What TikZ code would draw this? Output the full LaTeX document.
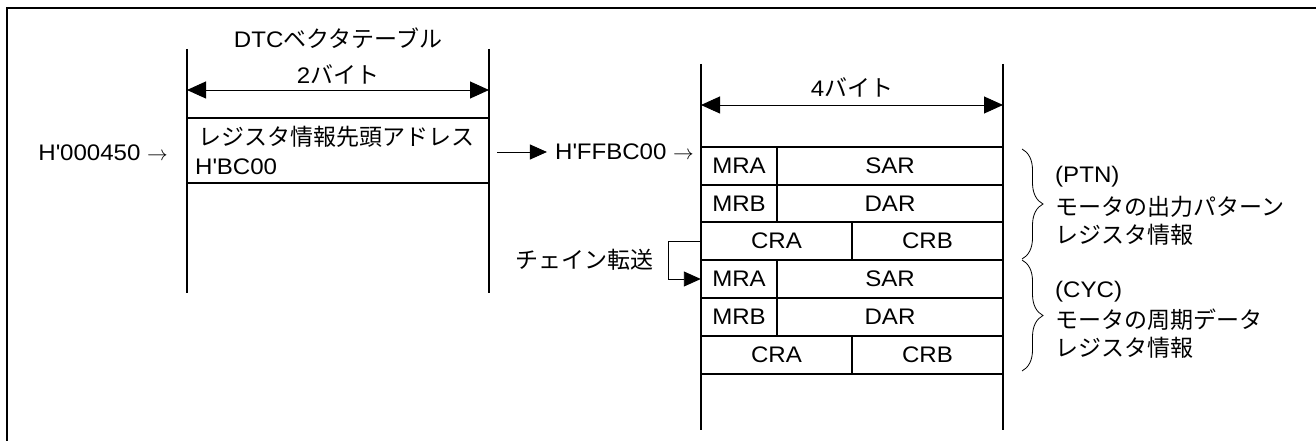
\documentclass[tikz,border=0pt]{standalone}
\usepackage{fontspec}
\setmainfont[FakeStretch=1.07]{Liberation Sans}
\newfontfamily\jpf{Noto Sans CJK JP}
\newcommand{\jp}[1]{{\jpf\fontsize{23bp}{27bp}\selectfont #1}}
\newcommand{\q}{\textquotesingle}
\usetikzlibrary{arrows.meta,decorations.pathreplacing}
\begin{document}
\begin{tikzpicture}[x=1bp,y=-1bp,
  font=\fontsize{22.5bp}{26bp}\selectfont,
  frame/.style={line width=2bp},
  tbl/.style={line width=1.6bp},
  divl/.style={line width=1.1bp},
  dim/.style={line width=0.9bp,{Triangle[length=19bp,width=17bp]}-{Triangle[length=19bp,width=17bp]}},
  conn/.style={line width=0.9bp,-{Triangle[length=17bp,width=15bp]}},
  lbl/.style={inner sep=0pt},
  cell/.style={inner sep=0pt,minimum height=37.8bp},
  br/.style={line width=0.8bp,decorate,decoration={brace,amplitude=21bp,aspect=0.5}}]
\useasboundingbox (0,0) rectangle (1316,441);
% frame
\draw[frame] (7,441) -- (7,8) -- (1316,8);
% left table
\draw[tbl] (187,49) -- (187,293) (489,49) -- (489,293);
\draw[tbl] (187,118) -- (489,118) (187,183) -- (489,183);
\coordinate (la) at (187,90);
\coordinate (lb) at (489,90);
\draw[dim] (la) -- (lb);
\node[lbl] (dtc) at (338,38) {DTC\jp{ベクタテーブル}};
\node[lbl] (b2) at (338,74) {2\jp{バイト}};
\node[inner sep=0pt,minimum width=302bp,minimum height=65bp] (vec) at (338,150.5) {};
\node[lbl,anchor=west] (vt1) at (198,137) {\jp{レジスタ情報先頭アドレス}};
\node[lbl,anchor=west] (vt2) at (195,167) {H\q BC00};
\node[lbl,anchor=east] (a450) at (168,153) {H\q 000450 $\rightarrow$};
% right table
\draw[tbl] (701,64) -- (701,430) (1003,64) -- (1003,430);
\foreach \yy in {147,185,222,260,298,336,374} \draw[tbl] (701,\yy) -- (1003,\yy);
\draw[divl] (777,147) -- (777,222) (852,222) -- (852,260)
            (777,260) -- (777,336) (852,336) -- (852,374);
\coordinate (ra) at (701,105);
\coordinate (rb) at (1003,105);
\draw[dim] (ra) -- (rb);
\node[lbl] (b4) at (852,87) {4\jp{バイト}};
% cells
\node[cell,minimum width=76bp] (mra1) at (739,166) {MRA};
\node[cell,minimum width=226bp] (sar1) at (890,166) {SAR};
\node[cell,minimum width=76bp] (mrb1) at (739,203.5) {MRB};
\node[cell,minimum width=226bp] (dar1) at (890,203.5) {DAR};
\node[cell,minimum width=151bp] (cra1) at (776.5,241) {CRA};
\node[cell,minimum width=151bp] (crb1) at (927.5,241) {CRB};
\node[cell,minimum width=76bp] (mra2) at (739,279) {MRA};
\node[cell,minimum width=226bp] (sar2) at (890,279) {SAR};
\node[cell,minimum width=76bp] (mrb2) at (739,317) {MRB};
\node[cell,minimum width=226bp] (dar2) at (890,317) {DAR};
\node[cell,minimum width=151bp] (cra2) at (776.5,355) {CRA};
\node[cell,minimum width=151bp] (crb2) at (927.5,355) {CRB};
% address pointer
\node[lbl,anchor=east] (ffbc) at (694,152) {H\q FFBC00 $\rightarrow$};
\draw[conn] ([xshift=8bp]vec.east |- ffbc.west) -- ([xshift=-8bp]ffbc.west);
% chain transfer
\node[lbl] (chain) at (584,260) {\jp{チェイン転送}};
\draw[conn] (cra1.west) -- ++(-32,0) |- (mra2.west);
% braces
\coordinate (p1) at (1022,149);
\coordinate (p2) at (1022,259);
\coordinate (p3) at (1022,260);
\coordinate (p4) at (1022,371);
\draw[br] (p1) -- (p2);
\draw[br] (p3) -- (p4);
\node[lbl,anchor=west] (ptn) at (1055,177) {(PTN)};
\node[lbl,anchor=west] (ptn2) at (1055,207) {\jp{モータの出力パターン}};
\node[lbl,anchor=west] (ptn3) at (1055,235) {\jp{レジスタ情報}};
\node[lbl,anchor=west] (cyc) at (1055,292) {(CYC)};
\node[lbl,anchor=west] (cyc2) at (1055,320) {\jp{モータの周期データ}};
\node[lbl,anchor=west] (cyc3) at (1055,348) {\jp{レジスタ情報}};
\end{tikzpicture}
\end{document}
